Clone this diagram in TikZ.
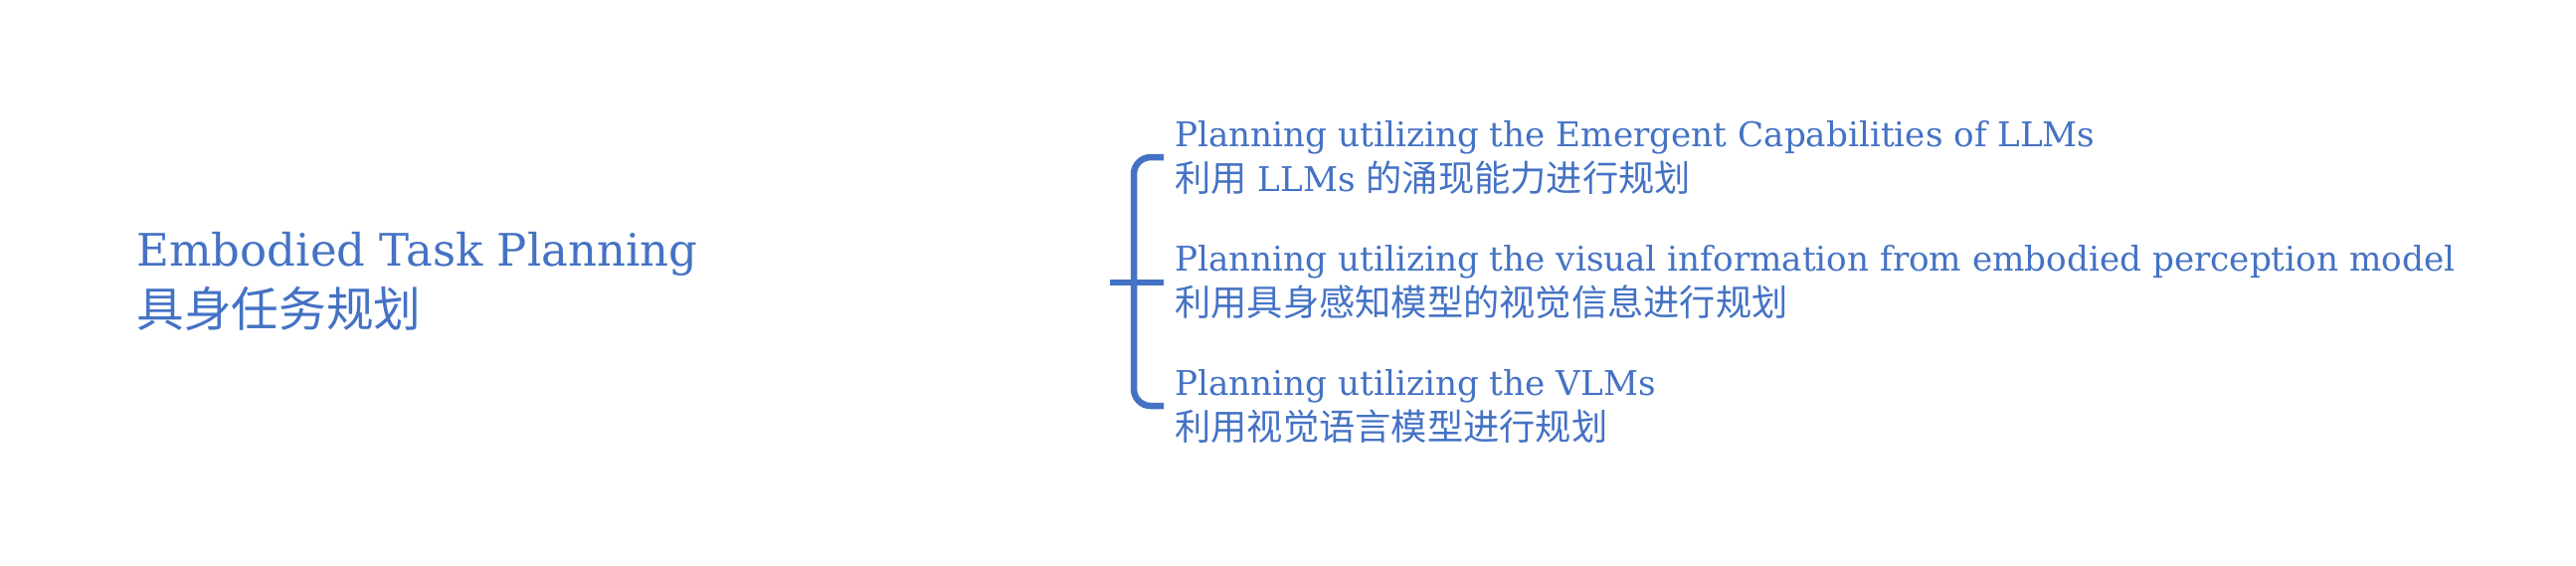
\documentclass[tikz,border=0pt]{standalone}
\usepackage{fontspec}
\setmainfont{DejaVu Serif}
\newfontfamily\cjk[Scale=1.06]{Noto Sans CJK SC}
\usetikzlibrary{positioning}
\definecolor{planBlue}{RGB}{68,114,196}
\tikzset{
    root_label/.style={
        anchor=base west,
        inner sep=0pt,
        align=left,
        text=planBlue,
        font=\fontsize{22.5pt}{30.5pt}\selectfont
    },
    leaf_label/.style={
        anchor=base west,
        inner sep=0pt,
        align=left,
        text=planBlue,
        font=\fontsize{17.1pt}{22.5pt}\selectfont
    },
    brace_line/.style={
        draw=planBlue,
        line width=3.25pt,
        rounded corners=8.5pt
    }
}

\begin{document}
\begin{tikzpicture}[x=0.5pt, y=-0.5pt]
    \useasboundingbox (0,0) rectangle (2590,568);

    \node[root_label] (task) at (137,328)
        {Embodied Task Planning \\ {\cjk 具身任务规划}};

    % three planning routes
    \node[leaf_label] (llm) at (1181,192)
        {Planning utilizing the Emergent Capabilities of LLMs \\ {\cjk 利用} LLMs {\cjk 的涌现能力进行规划}};
    \node[leaf_label] (vis) at (1181,317)
        {Planning utilizing the visual information from embodied perception model \\ {\cjk 利用具身感知模型的视觉信息进行规划}};
    \node[leaf_label] (vlm) at (1181,442)
        {Planning utilizing the VLMs \\ {\cjk 利用视觉语言模型进行规划}};

    % bracket
    \coordinate (spine) at (1140,284);
    \coordinate (hub) at (1116,284);
    \draw[brace_line] ([xshift=-5.5pt]llm.west) -| (spine) |- ([xshift=-5.5pt]vlm.west);
    \draw[brace_line] (hub) -- ([xshift=-5.5pt]vis.west |- hub);
\end{tikzpicture}
\end{document}
